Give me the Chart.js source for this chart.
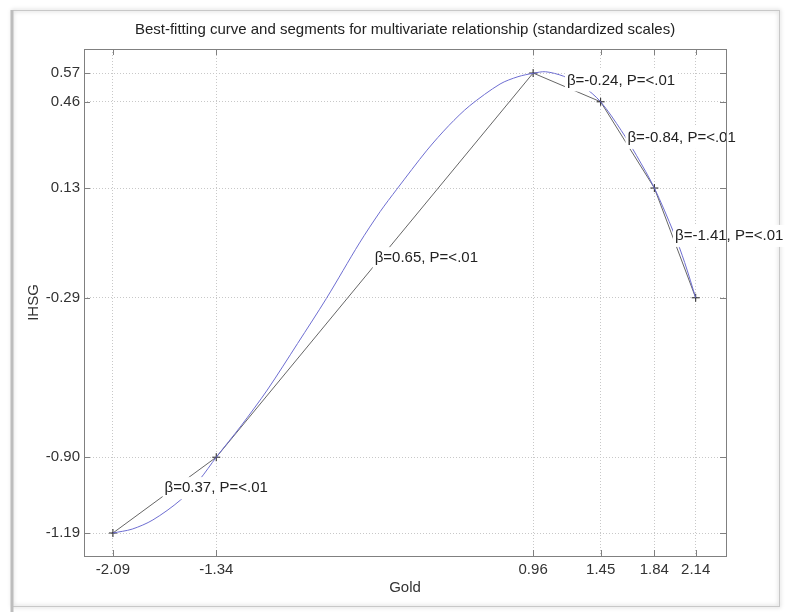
<!DOCTYPE html>
<html lang="en">
<head>
  <meta charset="UTF-8" />
  <title>Best-fitting curve and segments</title>
  <script src="https://cdn.jsdelivr.net/npm/chart.js"></script>
  <style>
    html, body { margin: 0; padding: 0; background: #fff; }
    #wrap { width: 785px; height: 612px; }
  </style>
</head>
<body>
  <div id="wrap">
    <canvas id="myChart" width="785" height="612"></canvas>
  </div>

  <script>
    // segment end points (standardized Gold vs IHSG)
    const segX = [-2.09, -1.34, 0.96, 1.45, 1.84, 2.14];
    const segY = [-1.19, -0.90, 0.57, 0.46, 0.13, -0.29];
    const segLabels = ['β=0.37, P=<.01', 'β=0.65, P=<.01', 'β=-0.24, P=<.01',
                       'β=-0.84, P=<.01', 'β=-1.41, P=<.01'];

    // best-fitting curve
    const curveX = [-2.09, -1.95, -1.80, -1.60, -1.46, -1.34, -1.16, -0.97, -0.75, -0.54,
                    -0.30, -0.15, -0.03, 0.19, 0.35, 0.50, 0.72, 0.85, 0.96, 1.05,
                    1.18, 1.32, 1.45, 1.60, 1.71, 1.84, 1.98, 2.06, 2.14];
    const curveY = [-1.19, -1.175, -1.14, -1.064, -0.985, -0.90, -0.78, -0.643, -0.465, -0.292,
                    -0.08, 0.04, 0.125, 0.275, 0.37, 0.445, 0.528, 0.556, 0.569, 0.575,
                    0.558, 0.52, 0.46, 0.35, 0.255, 0.13, -0.04, -0.155, -0.29];

    // tick positions
    const xTicks = [-2.09, -1.34, 0.96, 1.45, 1.84, 2.14];
    const yTicks = [-1.19, -0.90, -0.29, 0.13, 0.46, 0.57];

    const FONT = 'Liberation Sans, Arial, Helvetica, sans-serif';

    const toPoints = (xs, ys) => xs.map((x, i) => ({ x: x, y: ys[i] }));

    // white-boxed beta labels, the plot box and the inner tick marks
    const matlabLook = {
      id: 'matlabLook',
      beforeDraw(chart) {
        const c = chart.ctx;
        c.save();
        c.fillStyle = '#fff';
        c.fillRect(0, 0, chart.width, chart.height);
        // screenshot frame
        c.shadowColor = 'rgba(0,0,0,0.35)';
        c.shadowBlur = 4;
        c.strokeStyle = '#c8c8c8';
        c.lineWidth = 1;
        c.strokeRect(12.5, 10.5, 767, 596);
        c.restore();
        c.save();
        c.strokeStyle = '#bdbdbd';
        c.lineWidth = 3;
        c.beginPath();
        c.moveTo(12, 10);
        c.lineTo(12, 612);
        c.stroke();
        c.restore();
      },
      afterDatasetsDraw(chart) {
        const c = chart.ctx;
        const xs = chart.scales.x, ys = chart.scales.y;
        c.save();
        c.font = '15px ' + FONT;
        c.textBaseline = 'middle';
        c.textAlign = 'left';
        segLabels.forEach((txt, i) => {
          const mx = (segX[i] + segX[i + 1]) / 2;
          const my = (segY[i] + segY[i + 1]) / 2;
          const px = xs.getPixelForValue(mx);
          const py = ys.getPixelForValue(my) - 7;
          const w = c.measureText(txt).width;
          c.fillStyle = '#fff';
          c.fillRect(px - 2, py - 11, w + 4, 22);
          c.fillStyle = '#222';
          c.fillText(txt, px, py);
        });
        c.restore();
      },
      afterDraw(chart) {
        const c = chart.ctx;
        const a = chart.chartArea;
        const xs = chart.scales.x, ys = chart.scales.y;
        c.save();
        c.strokeStyle = '#808080';
        c.lineWidth = 1;
        c.strokeRect(Math.round(a.left) + 0.5, Math.round(a.top) + 0.5,
                     Math.round(a.right - a.left), Math.round(a.bottom - a.top));
        c.beginPath();
        xTicks.forEach(v => {
          const px = Math.round(xs.getPixelForValue(v)) + 0.5;
          c.moveTo(px, a.bottom); c.lineTo(px, a.bottom - 6);
          c.moveTo(px, a.top); c.lineTo(px, a.top + 6);
        });
        yTicks.forEach(v => {
          const py = Math.round(ys.getPixelForValue(v)) + 0.5;
          c.moveTo(a.left, py); c.lineTo(a.left + 6, py);
          c.moveTo(a.right, py); c.lineTo(a.right - 6, py);
        });
        c.stroke();
        c.restore();
      }
    };

    const ctx = document.getElementById('myChart');
    new Chart(ctx, {
      type: 'scatter',
      data: {
        datasets: [
          {
            label: 'curve',
            data: toPoints(curveX, curveY),
            showLine: true,
            borderColor: 'rgb(110,110,210)',
            borderWidth: 1,
            pointRadius: 0,
            tension: 0.3
          },
          {
            label: 'segments',
            data: toPoints(segX, segY),
            showLine: true,
            borderColor: '#666',
            borderWidth: 1,
            tension: 0,
            pointStyle: 'cross',
            pointRadius: 4,
            pointBorderColor: '#222',
            pointBorderWidth: 1
          }
        ]
      },
      options: {
        responsive: false,
        animation: false,
        devicePixelRatio: 1,
        layout: { padding: { left: 0, right: 59, top: 0, bottom: 0 } },
        plugins: {
          legend: { display: false },
          tooltip: { enabled: false },
          title: {
            display: true,
            fullSize: false,
            text: 'Best-fitting curve and segments for multivariate relationship (standardized scales)',
            color: '#222',
            font: { family: FONT, size: 15, weight: 'normal' },
            padding: { top: 21, bottom: 10 }
          }
        },
        scales: {
          x: {
            type: 'linear',
            min: -2.30,
            max: 2.36,
            afterBuildTicks: s => { s.ticks = xTicks.map(v => ({ value: v })); },
            afterFit: s => { s.height = 56; },
            ticks: {
              autoSkip: false,
              maxRotation: 0,
              padding: 5,
              color: '#333',
              font: { family: FONT, size: 15 },
              callback: v => Number(v).toFixed(2)
            },
            grid: { color: '#c8c8c8', drawTicks: false },
            border: { display: false, dash: [1, 2] },
            title: {
              display: true,
              text: 'Gold',
              color: '#333',
              font: { family: FONT, size: 15 },
              padding: { top: 0, bottom: 15 }
            }
          },
          y: {
            type: 'linear',
            min: -1.278,
            max: 0.662,
            afterBuildTicks: s => { s.ticks = yTicks.map(v => ({ value: v })); },
            afterFit: s => { s.width = 84; },
            ticks: {
              autoSkip: false,
              padding: 4,
              color: '#333',
              font: { family: FONT, size: 15 },
              callback: v => Number(v).toFixed(2)
            },
            grid: { color: '#c8c8c8', drawTicks: false },
            border: { display: false, dash: [1, 2] },
            title: {
              display: true,
              text: 'IHSG',
              color: '#333',
              font: { family: FONT, size: 15 },
              padding: { top: 25, bottom: 0 }
            }
          }
        }
      },
      plugins: [matlabLook]
    });
  </script>
</body>
</html>
